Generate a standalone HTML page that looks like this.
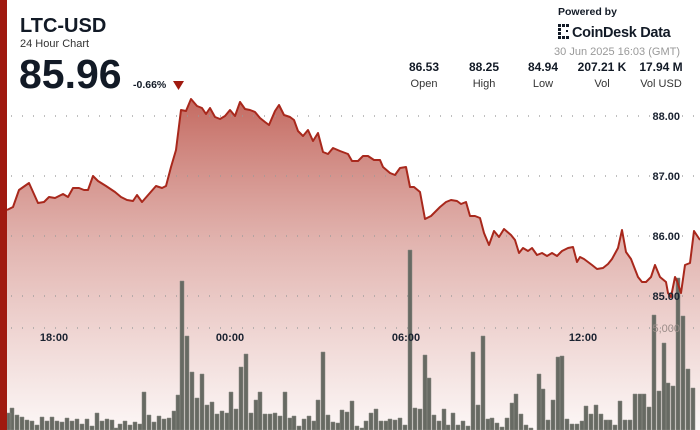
<!DOCTYPE html>
<html><head><meta charset="utf-8"><style>
body{margin:0;width:700px;height:430px;overflow:hidden;background:#fff;font-family:"Liberation Sans",sans-serif}
</style></head><body>
<svg width="700" height="430" viewBox="0 0 700 430" xmlns="http://www.w3.org/2000/svg" style="position:absolute;left:0;top:0">
<defs>
<linearGradient id="g" gradientUnits="userSpaceOnUse" x1="0" y1="100" x2="0" y2="430">
<stop offset="0" stop-color="#bf5e54" stop-opacity="0.92"/>
<stop offset="0.45" stop-color="#d99e98" stop-opacity="0.75"/>
<stop offset="1" stop-color="#fbf3f2" stop-opacity="0.7"/>
</linearGradient>
</defs>
<polygon fill="url(#g)" points="7,430 7,210 13,207 19,190 29,183 38,203 44,202 49,197 55,198 63,194 68,197 73,188 79,188 84,190 88,190 93,176 98,181 106,186 115,192 121,197 127,200 133,201 137,195 142,202 149,194 156,186 162,188 166,186 171,167 176,150 181,110 186,111 191,99 197,106 202,108 206,114 210,108 215,117 220,119 225,116 230,110 235,116 240,102 245,109 250,110 255,112 260,118 265,122 269,125 275,111 279,105 284,115 290,117 294,120 298,131 303,136 308,130 313,141 318,133 323,152 328,154 333,148 340,151 348,154 352,161 358,161 363,156 368,156 374,160 380,160 383,167 390,173 395,175 400,168 406,167 410,187 414,187 420,192 425,219 431,216 440,207 446,202 451,200 457,201 461,204 466,202 470,216 475,216 480,218 484,233 489,245 494,231 499,237 504,229 511,235 515,240 519,253 523,248 528,251 532,248 537,255 542,253 547,256 552,253 557,256 562,251 568,248 573,247 577,262 580,257 584,259 592,265 597,269 603,268 608,264 612,259 618,248 622,230 626,252 631,259 638,277 642,282 646,282 651,277 655,265 660,277 666,282 668,293 671,297 675,277 677,281 681,293 685,265 690,263 694,231 700,240 700,430"/>
<g stroke="#999" stroke-width="1.2" stroke-dasharray="1 10" fill="none">
<line x1="11" y1="116" x2="700" y2="116"/>
<line x1="11" y1="176" x2="700" y2="176"/>
<line x1="11" y1="236" x2="700" y2="236"/>
<line x1="11" y1="296" x2="700" y2="296"/>
<line x1="11" y1="328" x2="700" y2="328"/>
</g>
<g fill="#676a63" stroke="#8a8a84" stroke-width="0.5">
<path d="M7 413h4v17h-4zM10 408h4v22h-4zM15 415h4v15h-4zM20 417h4v13h-4zM25 420h4v10h-4zM30 421h4v9h-4zM35 425h4v5h-4zM40 417h4v13h-4zM45 421h4v9h-4zM50 417h4v13h-4zM55 421h4v9h-4zM60 422h4v8h-4zM65 418h4v12h-4zM70 421h4v9h-4zM75 419h4v11h-4zM80 424h4v6h-4zM85 419h4v11h-4zM90 426h4v4h-4zM95 413h4v17h-4zM100 421h4v9h-4zM105 419h4v11h-4zM110 420h4v10h-4zM114 428h4v2h-4zM118 424h4v6h-4zM123 421h4v9h-4zM128 425h4v5h-4zM133 422h4v8h-4zM138 424h4v6h-4zM142 392h4v38h-4zM147 415h4v15h-4zM152 422h4v8h-4zM157 416h4v14h-4zM162 419h4v11h-4zM167 418h4v12h-4zM172 411h4v19h-4zM176 395h4v35h-4zM180 281h4v149h-4zM185 336h4v94h-4zM190 372h4v58h-4zM195 398h4v32h-4zM200 374h4v56h-4zM205 405h4v25h-4zM210 402h4v28h-4zM215 414h4v16h-4zM220 411h4v19h-4zM225 413h4v17h-4zM229 392h4v38h-4zM234 409h4v21h-4zM239 367h4v63h-4zM244 354h4v76h-4zM249 413h4v17h-4zM254 400h4v30h-4zM258 392h4v38h-4zM263 414h4v16h-4zM268 414h4v16h-4zM273 413h4v17h-4zM278 416h4v14h-4zM283 392h4v38h-4zM288 418h4v12h-4zM292 416h4v14h-4zM297 426h4v4h-4zM302 419h4v11h-4zM307 416h4v14h-4zM312 421h4v9h-4zM316 400h4v30h-4zM321 352h4v78h-4zM326 415h4v15h-4zM331 422h4v8h-4zM336 423h4v7h-4zM340 410h4v20h-4zM345 412h4v18h-4zM350 401h4v29h-4zM355 426h4v4h-4zM360 428h4v2h-4zM364 421h4v9h-4zM369 413h4v17h-4zM374 409h4v21h-4zM379 421h4v9h-4zM384 421h4v9h-4zM388 419h4v11h-4zM393 420h4v10h-4zM398 418h4v12h-4zM403 425h4v5h-4zM408 250h4v180h-4zM413 408h4v22h-4zM418 409h4v21h-4zM423 355h4v75h-4zM427 378h4v52h-4zM432 415h4v15h-4zM437 421h4v9h-4zM442 409h4v21h-4zM446 425h4v5h-4zM451 413h4v17h-4zM456 425h4v5h-4zM461 421h4v9h-4zM466 426h4v4h-4zM471 352h4v78h-4zM476 405h4v25h-4zM481 336h4v94h-4zM486 419h4v11h-4zM490 418h4v12h-4zM495 423h4v7h-4zM500 427h4v3h-4zM505 418h4v12h-4zM510 403h4v27h-4zM514 394h4v36h-4zM519 414h4v16h-4zM524 425h4v5h-4zM529 428h4v2h-4zM537 374h4v56h-4zM541 389h4v41h-4zM546 420h4v10h-4zM551 400h4v30h-4zM556 357h4v73h-4zM560 356h4v74h-4zM565 419h4v11h-4zM570 424h4v6h-4zM575 424h4v6h-4zM580 421h4v9h-4zM584 406h4v24h-4zM589 414h4v16h-4zM594 405h4v25h-4zM599 414h4v16h-4zM604 420h4v10h-4zM608 420h4v10h-4zM613 425h4v5h-4zM618 401h4v29h-4zM623 420h4v10h-4zM628 420h4v10h-4zM633 394h4v36h-4zM638 394h4v36h-4zM642 394h4v36h-4zM647 407h4v23h-4zM652 315h4v115h-4zM657 391h4v39h-4zM662 343h4v87h-4zM666 383h4v47h-4zM671 386h4v44h-4zM676 278h4v152h-4zM681 316h4v114h-4zM686 369h4v61h-4zM691 388h4v42h-4z"/>
</g>
<polyline fill="none" stroke="#a8281c" stroke-width="2" stroke-linejoin="round" points="7,210 13,207 19,190 29,183 38,203 44,202 49,197 55,198 63,194 68,197 73,188 79,188 84,190 88,190 93,176 98,181 106,186 115,192 121,197 127,200 133,201 137,195 142,202 149,194 156,186 162,188 166,186 171,167 176,150 181,110 186,111 191,99 197,106 202,108 206,114 210,108 215,117 220,119 225,116 230,110 235,116 240,102 245,109 250,110 255,112 260,118 265,122 269,125 275,111 279,105 284,115 290,117 294,120 298,131 303,136 308,130 313,141 318,133 323,152 328,154 333,148 340,151 348,154 352,161 358,161 363,156 368,156 374,160 380,160 383,167 390,173 395,175 400,168 406,167 410,187 414,187 420,192 425,219 431,216 440,207 446,202 451,200 457,201 461,204 466,202 470,216 475,216 480,218 484,233 489,245 494,231 499,237 504,229 511,235 515,240 519,253 523,248 528,251 532,248 537,255 542,253 547,256 552,253 557,256 562,251 568,248 573,247 577,262 580,257 584,259 592,265 597,269 603,268 608,264 612,259 618,248 622,230 626,252 631,259 638,277 642,282 646,282 651,277 655,265 660,277 666,282 668,293 671,297 675,277 677,281 681,293 685,265 690,263 694,231 700,240"/>
<g font-family="Liberation Sans, sans-serif" font-size="11" font-weight="bold" fill="#1a2230" text-anchor="end">
<text x="680" y="120">88.00</text>
<text x="680" y="180">87.00</text>
<text x="680" y="240">86.00</text>
<text x="680" y="300">85.00</text>
<text x="680" y="332" fill="#9a8c88" font-weight="normal">5,000</text>
</g>
<g font-family="Liberation Sans, sans-serif" font-size="11" font-weight="bold" fill="#1a2230" text-anchor="middle">
<text x="54" y="341">18:00</text>
<text x="230" y="341">00:00</text>
<text x="406" y="341">06:00</text>
<text x="583" y="341">12:00</text>
</g>
<rect x="0" y="0" width="7" height="430" fill="#a01a10"/>
<g font-family="Liberation Sans, sans-serif" fill="#121a26">
<text x="20" y="32" font-size="20" font-weight="bold">LTC-USD</text>
<text x="20" y="47" font-size="11" fill="#333">24 Hour Chart</text>
<text x="19" y="88" font-size="41" font-weight="bold">85.96</text>
<text x="133" y="88" font-size="10.5" font-weight="bold">-0.66%</text>
<polygon points="173,81 184,81 178.5,90" fill="#a01a10"/>
<text x="558" y="15" font-size="10.5" font-weight="bold">Powered by</text>
<g fill="#121a26"><rect x="558" y="24" width="3" height="3"/><rect x="562" y="24" width="3" height="3"/><rect x="566" y="24" width="3" height="3"/><rect x="558" y="28" width="3" height="3"/><rect x="558" y="32" width="3" height="3"/><rect x="558" y="36" width="3" height="3"/><rect x="562" y="36" width="3" height="3"/><rect x="566" y="36" width="3" height="3"/><rect x="566" y="30" width="2" height="2"/></g>
<text x="572" y="37" font-size="14.5" font-weight="bold" letter-spacing="-0.3">CoinDesk Data</text>
<text x="680" y="55" font-size="11" fill="#999" text-anchor="end">30 Jun 2025 16:03 (GMT)</text>
<g text-anchor="middle">
<text x="424" y="71" font-size="12" font-weight="bold">86.53</text>
<text x="484" y="71" font-size="12" font-weight="bold">88.25</text>
<text x="543" y="71" font-size="12" font-weight="bold">84.94</text>
<text x="602" y="71" font-size="12" font-weight="bold">207.21 K</text>
<text x="661" y="71" font-size="12" font-weight="bold">17.94 M</text>
<text x="424" y="87" font-size="11" fill="#333">Open</text>
<text x="484" y="87" font-size="11" fill="#333">High</text>
<text x="543" y="87" font-size="11" fill="#333">Low</text>
<text x="602" y="87" font-size="11" fill="#333">Vol</text>
<text x="661" y="87" font-size="11" fill="#333">Vol USD</text>
</g>
</g>
</svg>
</body></html>
